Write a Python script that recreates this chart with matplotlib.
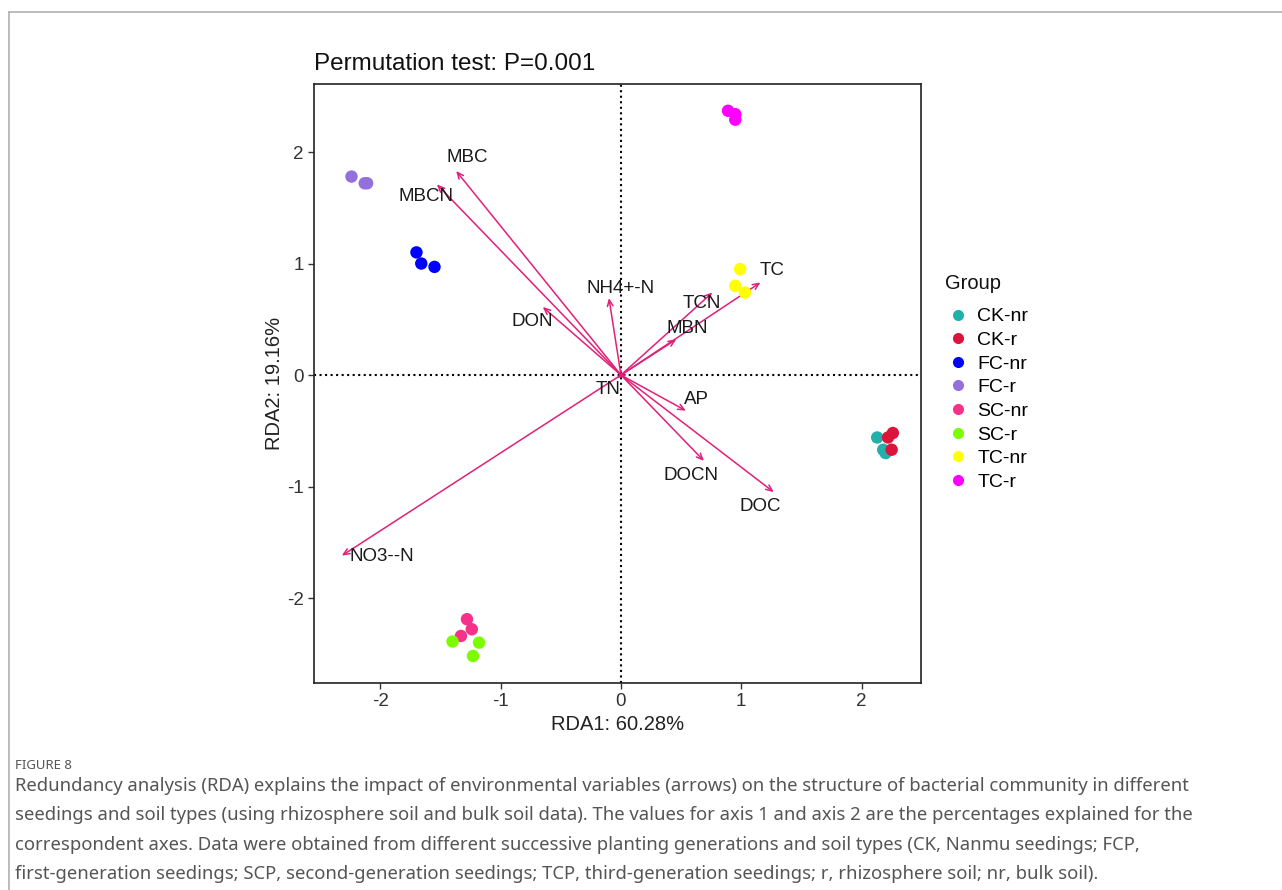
import matplotlib.pyplot as plt
from matplotlib.lines import Line2D

plt.rcParams['font.family'] = ['Liberation Sans', 'DejaVu Sans']
plt.rcParams['axes.unicode_minus'] = False

# site scores per group
groups = ['CK-nr', 'CK-r', 'FC-nr', 'FC-r', 'SC-nr', 'SC-r', 'TC-nr', 'TC-r']
colors = ['#20B2AA', '#DC143C', '#0000FF', '#9370DB', '#F7318A', '#7CFC00', '#FFFF00', '#FF00FF']
pts_x = {
    'CK-nr': [2.13, 2.18, 2.20],
    'CK-r': [2.26, 2.25, 2.22],
    'FC-nr': [-1.70, -1.66, -1.55],
    'FC-r': [-2.24, -2.13, -2.11],
    'SC-nr': [-1.28, -1.24, -1.33],
    'SC-r': [-1.40, -1.18, -1.23],
    'TC-nr': [0.99, 0.95, 1.03],
    'TC-r': [0.89, 0.95, 0.95],
}
pts_y = {
    'CK-nr': [-0.56, -0.67, -0.70],
    'CK-r': [-0.52, -0.67, -0.56],
    'FC-nr': [1.10, 1.00, 0.97],
    'FC-r': [1.78, 1.72, 1.72],
    'SC-nr': [-2.19, -2.28, -2.34],
    'SC-r': [-2.39, -2.40, -2.52],
    'TC-nr': [0.95, 0.80, 0.74],
    'TC-r': [2.37, 2.34, 2.29],
}

# environmental arrows: tip and label position
env = ['MBC', 'MBCN', 'DON', 'NH4+-N', 'TCN', 'MBN', 'TC', 'TN', 'AP', 'DOCN', 'DOC', 'NO3--N']
arr_x = [-1.37, -1.53, -0.65, -0.10, 0.76, 0.46, 1.16, -0.03, 0.54, 0.69, 1.27, -2.32]
arr_y = [1.83, 1.71, 0.61, 0.69, 0.74, 0.32, 0.83, -0.03, -0.32, -0.77, -1.05, -1.62]
lab_x = [-1.28, -1.62, -0.74, 0.00, 0.67, 0.55, 1.26, -0.11, 0.63, 0.58, 1.16, -1.99]
lab_y = [1.95, 1.60, 0.48, 0.78, 0.64, 0.42, 0.94, -0.13, -0.22, -0.90, -1.18, -1.63]

fig = plt.figure(figsize=(12.82, 8.90), dpi=100)
ax = fig.add_axes([0.2449, 0.2326, 0.4735, 0.6730])

ax.axhline(0, color='black', linestyle=':', linewidth=1.5, zorder=1)
ax.axvline(0, color='black', linestyle=':', linewidth=1.5, zorder=1)

for g, c in zip(groups, colors):
    ax.scatter(pts_x[g], pts_y[g], s=80, color=c, edgecolors='none', zorder=3)

for i, name in enumerate(env):
    ax.annotate('', xy=(arr_x[i], arr_y[i]), xytext=(0, 0),
                arrowprops=dict(arrowstyle='->,head_length=0.45,head_width=0.2',
                                color='#E0207A', lw=1.1, shrinkA=0, shrinkB=0),
                zorder=2)
    ax.text(lab_x[i], lab_y[i], name, fontsize=13.5, ha='center', va='center',
            color='#1a1a1a', zorder=4)

ax.set_xlim(-2.552, 2.494)
ax.set_ylim(-2.762, 2.61)
ax.set_xticks([-2, -1, 0, 1, 2])
ax.set_yticks([-2, -1, 0, 1, 2])
ax.tick_params(labelsize=13.5, length=4, width=1, colors='#333333', labelcolor='#333333')
for s in ax.spines.values():
    s.set_linewidth(1.2)
    s.set_color('#222222')
ax.set_xlabel('RDA1: 60.28%', fontsize=14.5, color='#222222', labelpad=3)
ax.set_ylabel('RDA2: 19.16%', fontsize=14.5, color='#222222', labelpad=2)
ax.set_title('Permutation test: P=0.001', fontsize=17.5, loc='left', pad=10, color='#111111')

handles = [Line2D([], [], marker='o', linestyle='none', markersize=8,
                  markerfacecolor=c, markeredgecolor='none') for c in colors]
fig.text(0.737, 0.681, 'Group', fontsize=14.5, color='#111111', va='center')
fig.legend(handles, groups, loc='upper left',
           bbox_to_anchor=(0.729, 0.663), frameon=False, fontsize=14,
           handletextpad=0.2, labelspacing=0.31, borderaxespad=0,
           handlelength=1.6)

# page frame and caption
fig.add_artist(Line2D([0.007, 1.0], [0.9865, 0.9865], color='#b0b0b0', lw=1.2))
fig.add_artist(Line2D([0.007, 0.007], [0.0, 0.9865], color='#b0b0b0', lw=1.2))
fig.text(0.012, 0.140, 'FIGURE 8', fontsize=9.5, color='#555555', family='Noto Sans',
         va='center')
caption = ('Redundancy analysis (RDA) explains the impact of environmental variables (arrows) on the structure of bacterial community in different\n'
           'seedings and soil types (using rhizosphere soil and bulk soil data). The values for axis 1 and axis 2 are the percentages explained for the\n'
           'correspondent axes. Data were obtained from different successive planting generations and soil types (CK, Nanmu seedings; FCP,\n'
           'first-generation seedings; SCP, second-generation seedings; TCP, third-generation seedings; r, rhizosphere soil; nr, bulk soil).')
fig.text(0.012, 0.127, caption, fontsize=13.3, color='#555555', family='Noto Sans',
         va='top', linespacing=1.82)

fig.savefig('out.png', dpi=100)
